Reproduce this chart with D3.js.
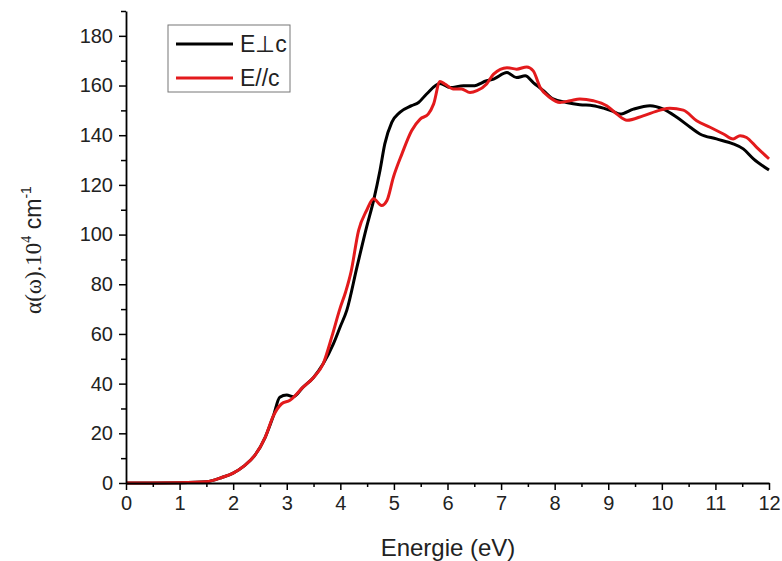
<!DOCTYPE html>
<html>
<head>
<meta charset="utf-8">
<title>absorption</title>
<style>
  body { margin: 0; background: #fff; }
  text { font-family: "Liberation Sans", Arial, sans-serif; }
</style>
</head>
<body>
<script src="https://d3js.org/d3.v7.min.js"></script>
<script>

    var width = 782,
        height = 561,
        margin = {left: 126, right: 13, top: 11, bottom: 78};

    // E perpendicular c
    var ePerpX = [0, 0.5, 1.0, 1.5, 1.8, 2.0, 2.2, 2.4, 2.6, 2.75, 2.87, 3.0, 3.12, 3.3, 3.5, 3.68, 3.87, 4.0, 4.12, 4.31, 4.49, 4.62, 4.74, 4.83, 4.96, 5.11, 5.33, 5.46, 5.61, 5.86, 6.05, 6.30, 6.48, 6.73, 6.86, 7.11, 7.29, 7.45, 7.60, 7.79, 7.97, 8.22, 8.47, 8.72, 8.91, 9.09, 9.22, 9.47, 9.78, 10.03, 10.28, 10.53, 10.71, 11.02, 11.33, 11.52, 11.71, 12.0];
    var ePerpY = [0, 0, 0.1, 0.5, 2.3, 4, 6.8, 11, 18.5, 27, 34.5, 35.4, 34.7, 38.5, 42.5, 48, 56, 63, 69.5, 86.9, 103, 113.7, 125.8, 136.5, 145.2, 149.2, 151.9, 153.2, 156.6, 160.8, 159.2, 159.9, 159.9, 161.9, 162.6, 165.2, 163.2, 163.9, 161.2, 157.9, 154.6, 153.2, 152.3, 151.9, 150.9, 149.6, 148.5, 150.5, 151.9, 150.5, 147.2, 143.2, 140.5, 138.5, 136.5, 134.5, 130.5, 126];

    // E parallel c
    var eParX = [0, 0.5, 1.0, 1.5, 1.8, 2.0, 2.2, 2.4, 2.6, 2.75, 2.9, 3.06, 3.3, 3.5, 3.68, 3.84, 3.99, 4.1, 4.2, 4.34, 4.49, 4.62, 4.77, 4.87, 4.99, 5.15, 5.33, 5.49, 5.64, 5.74, 5.86, 5.95, 6.11, 6.26, 6.42, 6.55, 6.73, 6.86, 7.11, 7.29, 7.48, 7.60, 7.73, 7.91, 8.10, 8.29, 8.47, 8.72, 8.97, 9.16, 9.35, 9.65, 9.97, 10.15, 10.40, 10.65, 10.90, 11.15, 11.33, 11.46, 11.58, 11.77, 12.0];
    var eParY = [0, 0, 0.1, 0.5, 2.3, 4, 6.8, 11, 18.5, 27, 31.8, 33.3, 38.5, 42.5, 48, 58.8, 70, 77, 85, 101.6, 109.7, 114.4, 111.7, 113.7, 123.1, 132.5, 141.8, 146.5, 148.5, 152.5, 161.6, 160.6, 158.6, 158.6, 157.2, 157.9, 160.6, 164.6, 167.2, 166.6, 167.5, 165.9, 159.2, 155.2, 153.2, 153.9, 154.6, 153.9, 151.9, 148.5, 146.0, 147.8, 150.1, 150.9, 150.1, 145.8, 143.2, 140.5, 138.5, 139.8, 139.1, 135.1, 130.5];

    var xMajor = d3.range(0, 13, 1),
        xMinor = d3.range(0.5, 12, 1),
        yMajor = d3.range(0, 181, 20),
        yMinor = d3.range(10, 191, 20);

    var series = [
        {name: 'E\u22A5c', color: '#000000', pts: ePerpX.map(function (x, i) { return [x, ePerpY[i]]; })},
        {name: 'E//c', color: '#e31a1c', pts: eParX.map(function (x, i) { return [x, eParY[i]]; })}
    ];

    var x = d3.scaleLinear().domain([0, 12]).range([margin.left, width - margin.right]);
    var y = d3.scaleLinear().domain([0, 190]).range([height - margin.bottom, margin.top]);

    var svg = d3.select('body').append('svg')
        .attr('width', width)
        .attr('height', height);

    var line = d3.line()
        .x(function (d) { return x(d[0]); })
        .y(function (d) { return y(d[1]); })
        .curve(d3.curveMonotoneX);

    svg.selectAll('path.series')
        .data(series)
        .enter().append('path')
        .attr('class', 'series')
        .attr('d', function (d) { return line(d.pts); })
        .attr('fill', 'none')
        .attr('stroke', function (d) { return d.color; })
        .attr('stroke-width', 3)
        .attr('stroke-linejoin', 'round');

    // axes
    function styleAxis(g) {
        g.selectAll('path.domain').attr('stroke', '#000').attr('stroke-width', 1.8);
        g.selectAll('.tick line').attr('stroke', '#000').attr('stroke-width', 1.5);
        g.selectAll('.tick text').attr('fill', '#222').style('font-size', '20px')
            .style('font-family', '"Liberation Sans", Arial, sans-serif');
    }

    var xAxis = svg.append('g')
        .attr('transform', 'translate(0,' + y(0) + ')')
        .call(d3.axisBottom(x).tickValues(xMajor).tickSize(7).tickSizeOuter(0).tickPadding(6));
    styleAxis(xAxis);

    var xAxisMinor = svg.append('g')
        .attr('transform', 'translate(0,' + y(0) + ')')
        .call(d3.axisBottom(x).tickValues(xMinor).tickSize(4).tickFormat(''));
    styleAxis(xAxisMinor);
    xAxisMinor.select('path.domain').remove();

    var yAxis = svg.append('g')
        .attr('transform', 'translate(' + x(0) + ',0)')
        .call(d3.axisLeft(y).tickValues(yMajor).tickSize(7).tickSizeOuter(0).tickPadding(6));
    styleAxis(yAxis);

    var yAxisMinor = svg.append('g')
        .attr('transform', 'translate(' + x(0) + ',0)')
        .call(d3.axisLeft(y).tickValues(yMinor).tickSize(5).tickFormat(''));
    styleAxis(yAxisMinor);
    yAxisMinor.select('path.domain').remove();

    // axis titles
    svg.append('text')
        .attr('x', 448)
        .attr('y', 556)
        .attr('text-anchor', 'middle')
        .attr('fill', '#222')
        .style('font-size', '24px')
        .text('Energie (eV)');

    var yTitle = svg.append('text')
        .attr('transform', 'translate(41,250) rotate(-90)')
        .attr('text-anchor', 'middle')
        .attr('fill', '#222')
        .style('font-size', '23px');
    yTitle.append('tspan').style('font-family', '"Liberation Serif", "Times New Roman", serif').text('\u03B1(\u03C9).10');
    yTitle.append('tspan').style('font-family', '"Liberation Serif", "Times New Roman", serif')
        .style('font-size', '14px').attr('dy', -10).text('4');
    yTitle.append('tspan').attr('dy', 10).text(' cm');
    yTitle.append('tspan').style('font-size', '14px').attr('dy', -10).text('-1');

    // legend
    var legend = svg.append('g').attr('transform', 'translate(168,25)');
    legend.append('rect')
        .attr('width', 122).attr('height', 67)
        .attr('fill', '#fff').attr('stroke', '#777').attr('stroke-width', 1);

    var item = legend.selectAll('g.item')
        .data(series)
        .enter().append('g')
        .attr('class', 'item')
        .attr('transform', function (d, i) { return 'translate(0,' + (19 + i * 34) + ')'; });
    item.append('line')
        .attr('x1', 8).attr('x2', 65)
        .attr('stroke', function (d) { return d.color; })
        .attr('stroke-width', 3);
    item.append('text')
        .attr('x', 72).attr('dy', '0.36em')
        .attr('fill', '#222')
        .style('font-size', '23px')
        .text(function (d) { return d.name; });

</script>
</body>
</html>
